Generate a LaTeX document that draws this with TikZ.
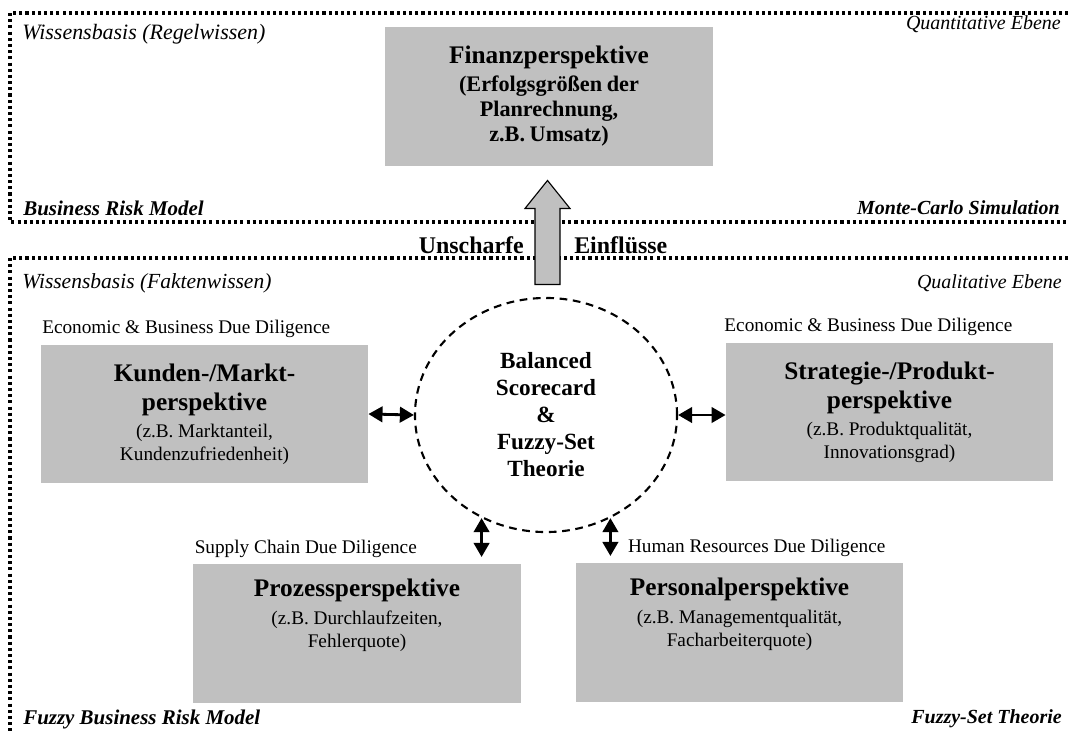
\documentclass[tikz,border=0pt]{standalone}
\usepackage{fontspec}
\setmainfont{Liberation Serif}
\usetikzlibrary{positioning,arrows.meta,calc,shapes.geometric}

\newcommand{\perstitle}[1]{{\fontsize{18}{20.6}\selectfont\bfseries #1\par}}
\newcommand{\perstext}[1]{{\fontsize{13.7}{16.4}\selectfont\vspace{3pt}#1\par}}
\newcommand{\finsub}[1]{{\fontsize{15.8}{17.8}\selectfont\bfseries\vspace{2pt}#1\par}}

\begin{document}
\begin{tikzpicture}[x=0.025cm,y=-0.025cm,
  persp/.style={fill=boxgray,minimum width=8.18cm,minimum height=3.46cm,text width=7.9cm,align=center,inner sep=2pt},
  ebene/.style={line width=2.5pt,dash pattern=on 2.2pt off 2.2pt},
  dd/.style={font=\fontsize{13.7}{16.4}\selectfont,inner sep=1pt},
  lab/.style={inner sep=0pt,font=\fontsize{14.2}{17}\selectfont},
  infltext/.style={inner sep=0pt,font=\fontsize{17}{20}\selectfont\bfseries},
  dbl/.style={{Triangle[length=10pt,width=11pt]}-{Triangle[length=10pt,width=11pt]},line width=2pt}]
\definecolor{boxgray}{HTML}{C0C0C0}
\useasboundingbox (0,0) rectangle (1068,733);

\draw[ebene] (1068,13) -| (10,222) -- (1068,222);
\draw[ebene] (1068,258) -| (10,733);

\foreach \txt/\pos/\anc/\fnt [count=\i] in {
  {Wissensbasis (Regelwissen)}/{(22,34)}/west/{\fontsize{15.6}{18}\selectfont\itshape},
  {Quantitative Ebene}/{(1061,24)}/east/\itshape,
  {Business Risk Model}/{(23,208)}/west/{\fontsize{14.9}{18}\selectfont\bfseries\itshape},
  {Monte-Carlo Simulation}/{(1060,208)}/east/{\bfseries\itshape},
  {Wissensbasis (Faktenwissen)}/{(22,283)}/west/{\fontsize{15.3}{18}\selectfont\itshape},
  {Qualitative Ebene}/{(1062,283)}/east/\itshape,
  {Fuzzy Business Risk Model}/{(23,719)}/west/{\fontsize{14.9}{18}\selectfont\bfseries\itshape},
  {Fuzzy-Set Theorie}/{(1062,719)}/east/{\bfseries\itshape}}
  {\node[lab,anchor=\anc] (ebene\i) at \pos {\fnt\txt};}

\node[persp] (finanz) at (549,96.5) {\perstitle{Finanzperspektive}\finsub{(Erfolgsgrößen der\\Planrechnung,\\z.B. Umsatz)}};

\node[ellipse,draw,line width=1.5pt,dash pattern=on 5.5pt off 4pt,minimum width=6.55cm,minimum height=5.85cm,inner sep=0pt,
  align=center,font=\fontsize{16.5}{19.2}\selectfont\bfseries] (bsc) at (546,415) {Balanced\\Scorecard\\\&\\Fuzzy-Set\\Theorie};

\node[persp] (kunden) at (204.5,414) {\perstitle{Kunden-/Markt-\\perspektive}\perstext{(z.B. Marktanteil,\\Kundenzufriedenheit)}};
\node[persp] (strategie) at (889.5,412) {\perstitle{Strategie-/Produkt-\\perspektive}\perstext{(z.B. Produktqualität,\\Innovationsgrad)}};
\node[persp] (prozess) at (357,633.5) {\perstitle{Prozessperspektive}\perstext{(z.B. Durchlaufzeiten,\\Fehlerquote)}\rule{0pt}{25pt}};
\node[persp] (personal) at (739.5,632.5) {\perstitle{Personalperspektive}\perstext{(z.B. Managementqualität,\\Facharbeiterquote)}\rule{0pt}{25pt}};

\node[dd,above right=4pt and 0pt of kunden.north west] (ddkunden) {Economic \& Business Due Diligence};
\node[dd,above right=4pt and -2pt of strategie.north west] (ddstrategie) {Economic \& Business Due Diligence};
\node[dd,above right=3pt and 0pt of prozess.north west] (ddprozess) {Supply Chain Due Diligence};
\node[dd,above right=3pt and 1.27cm of personal.north west] (ddpersonal) {Human Resources Due Diligence};

\coordinate (infl) at ($(finanz.south)!0.5!(bsc.north)$);
\draw[fill=boxgray,line width=0.8pt] ($(infl)+(-12.5,53)$) -- ++(0,-76) -- ++(-10,0) -- ++(22.5,-28)
  -- ++(22.5,28) -- ++(-10,0) -- ++(0,76) -- cycle;
\node[infltext,anchor=east] (unscharfe) at (524,245) {Unscharfe};
\node[infltext,anchor=west] (einfl) at (574,245) {Einflüsse};

\draw[dbl] (kunden.east) -- (bsc.west);
\draw[dbl] (bsc.east) -- (bsc.east -| strategie.west);
\draw[dbl,shorten >=5pt] (bsc.238) -- (bsc.238 |- prozess.north);
\draw[dbl,shorten >=5pt] (bsc.302) -- (bsc.302 |- personal.north);
\end{tikzpicture}
\end{document}
